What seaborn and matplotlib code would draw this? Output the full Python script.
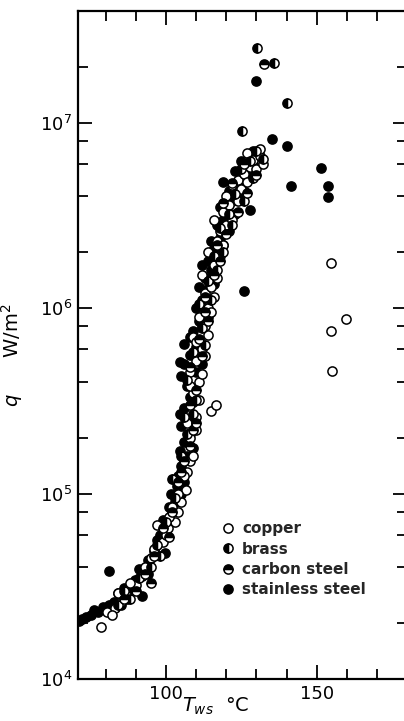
import numpy as np
import pandas as pd
import matplotlib
matplotlib.use("Agg")
import matplotlib.pyplot as plt
from matplotlib.lines import Line2D
from matplotlib.ticker import FixedLocator, NullFormatter
import seaborn as sns

# ---------------- data ----------------
copper_T = [78.5, 80.5, 83, 85, 87, 90, 92, 95, 96, 99, 100, 100.5, 103, 104, 105,
            106.5, 107, 108, 108, 110, 115, 116.5, 109, 111, 108, 110, 112, 109, 113,
            111, 114, 113, 115, 112, 116, 114, 117, 118, 116, 119, 121, 120, 123, 124,
            126, 128, 129, 131, 127,
            102, 104, 106, 109, 107, 110, 111, 108, 112, 113, 110, 114, 115, 116, 117,
            118, 119, 120, 122, 124, 122, 125, 127, 130, 132, 131, 93, 88, 84, 82, 97, 101,
            154.6, 159.6, 154.6, 155]
copper_q = [1.9e4, 2.3e4, 2.4e4, 2.6e4, 2.8e4, 3.2e4, 3.6e4, 4.5e4, 5.0e4, 5.5e4, 6.0e4,
            6.5e4, 7.0e4, 8.0e4, 9.0e4, 1.05e5, 1.3e5, 1.5e5, 2.0e5, 2.2e5, 2.8e5, 3.0e5,
            3.5e5, 4.0e5, 4.5e5, 5.2e5, 6.0e5, 7.0e5, 8.0e5, 9.0e5, 1.0e6, 1.2e6, 1.3e6,
            1.5e6, 1.7e6, 2.0e6, 2.3e6, 2.6e6, 3.0e6, 3.3e6, 3.6e6, 4.0e6, 4.4e6, 4.9e6,
            5.3e6, 5.8e6, 6.3e6, 6.6e6, 6.9e6,
            8.5e4, 1.0e5, 1.25e5, 1.6e5, 2.4e5, 2.6e5, 3.2e5, 3.8e5, 4.4e5, 5.5e5, 6.6e5,
            7.2e5, 9.5e5, 1.15e6, 1.45e6, 1.9e6, 2.2e6, 2.8e6, 3.0e6, 3.8e6, 4.6e6, 4.4e6,
            4.8e6, 5.6e6, 6.0e6, 7.2e6, 4.0e4, 3.3e4, 2.9e4, 2.2e4, 6.8e4, 7.5e4,
            1.75e6, 8.7e5, 7.5e5, 4.6e5]

brass_T = [84, 88, 91, 95, 97, 100, 103, 105, 107, 109, 107, 109, 112, 111, 114, 116,
           118, 121, 123, 125, 128, 130,
           102, 106, 110, 113, 115, 117, 119, 122, 126, 129, 132, 98, 86,
           125.2, 130.1, 135.8, 140.1]
brass_q = [2.5e4, 2.7e4, 3.5e4, 4.0e4, 5.3e4, 7.0e4, 9.5e4, 1.6e5, 2.1e5, 2.7e5, 4.1e5,
           5.8e5, 7.8e5, 1.05e6, 1.4e6, 1.9e6, 2.7e6, 3.2e6, 4.1e6, 5.6e6, 6.2e6, 7.0e6,
           1.2e5, 2.6e5, 3.2e5, 6.3e5, 1.1e6, 1.6e6, 2.0e6, 2.8e6, 3.8e6, 5.0e6, 6.4e6,
           4.6e4, 3.0e4,
           9.06e6, 2.54e7, 2.11e7, 1.27e7]

carbon_T = [86, 90, 93, 96, 99, 102, 104, 106, 108, 110, 108, 110, 108, 111, 113, 113,
            116, 117, 119, 122, 126,
            105, 109, 112, 114, 118, 120, 124, 127, 130, 101, 95,
            132.5]
carbon_q = [2.7e4, 3.0e4, 3.7e4, 4.6e4, 6.5e4, 8.0e4, 1.15e5, 1.5e5, 1.8e5, 2.4e5, 3.0e5,
            3.6e5, 4.8e5, 6.8e5, 9.5e5, 1.15e6, 1.5e6, 2.2e6, 3.7e6, 4.7e6, 6.0e6,
            1.3e5, 2.2e5, 5.5e5, 8.5e5, 1.8e6, 2.5e6, 3.3e6, 4.2e6, 5.2e6, 5.8e4, 3.3e4,
            2.08e7]

stainless_T = [71, 72, 73.5, 75, 76, 77.5, 79, 81, 82.5, 81.1, 84, 86, 88, 89.5, 91, 92,
               94, 96, 98, 99, 101, 101.5, 103.5, 104, 105, 104.5, 106, 105, 107, 106,
               108, 107, 105, 106, 104.5, 108, 110, 109, 111, 110, 112, 111, 113, 115,
               114, 116, 118, 117, 119, 120, 122, 121, 124, 125, 127, 129, 130,
               103, 105, 106, 107, 109, 108, 104.5, 109, 110, 112, 106, 108, 112, 114,
               113, 116, 112, 115, 119, 118, 121, 123, 124, 126, 128, 123, 125, 129, 119,
               94, 97, 100, 85, 87, 99.5,
               126, 127.8, 129.8, 135.1, 140.1, 151.3, 141.4, 153.6, 153.6]
stainless_q = [2.05e4, 2.1e4, 2.15e4, 2.2e4, 2.35e4, 2.3e4, 2.45e4, 2.5e4, 2.6e4, 3.8e4,
               2.9e4, 3.1e4, 3.0e4, 3.4e4, 3.9e4, 2.8e4, 4.4e4, 4.9e4, 6.0e4, 7.2e4,
               8.5e4, 1.0e5, 1.1e5, 1.25e5, 1.4e5, 1.7e5, 1.9e5, 2.3e5, 2.5e5, 2.9e5,
               3.3e5, 3.8e5, 4.3e5, 5.0e5, 5.1e5, 5.6e5, 6.2e5, 7.5e5, 8.5e5, 1.0e6,
               1.1e6, 1.3e6, 1.45e6, 1.6e6, 1.8e6, 2.1e6, 2.4e6, 2.8e6, 3.0e6, 3.4e6,
               3.8e6, 4.3e6, 4.6e6, 5.0e6, 5.5e6, 6.0e6, 6.6e6,
               9.0e4, 1.0e5, 1.15e5, 1.6e5, 1.75e5, 2.1e5, 2.7e5, 3.1e5, 4.5e5, 5.0e5,
               6.4e5, 7.0e5, 8.0e5, 9.0e5, 1.25e6, 1.35e6, 1.7e6, 2.3e6, 2.2e6, 3.5e6,
               2.6e6, 3.2e6, 4.0e6, 4.3e6, 5.0e6, 5.5e6, 6.2e6, 7.0e6, 4.8e6,
               3.7e4, 5.6e4, 6.3e4, 2.5e4, 2.7e4, 4.8e4,
               1.23e6, 3.4e6, 1.67e7, 8.2e6, 7.5e6, 5.7e6, 4.56e6, 4.56e6, 3.98e6]

series_names = ["copper", "brass", "carbon steel", "stainless steel"]
x_major = [100, 150]
x_minor = [80, 90, 110, 120, 130, 140, 160, 170]
y_major = [1e4, 1e5, 1e6, 1e7]
y_major_labels = [r"$\mathregular{10^4}$", r"$\mathregular{10^5}$",
                  r"$\mathregular{10^6}$", r"$\mathregular{10^7}$"]

# ---------------- figure ----------------
sns.set_theme(style="ticks")
plt.rcParams["font.family"] = ["DejaVu Sans"]

fig = plt.figure(figsize=(4.04, 7.21), dpi=100)
ax = fig.add_axes([78 / 404, 42 / 721, 329 / 404, 668 / 721])

ms = 6.6
mew = 1.1

df_cu = pd.DataFrame({"T": copper_T, "q": copper_q})
df_ss = pd.DataFrame({"T": stainless_T, "q": stainless_q})

sns.scatterplot(data=df_ss, x="T", y="q", ax=ax, marker="o", s=ms ** 2,
                color="black", edgecolor="black", linewidth=mew, zorder=3)
sns.scatterplot(data=df_cu, x="T", y="q", ax=ax, marker="o", s=ms ** 2,
                facecolor="white", edgecolor="black", linewidth=mew, zorder=4)
ax.plot(brass_T, brass_q, linestyle="none", marker="o", markersize=ms,
        fillstyle="left", markerfacecolor="black", markerfacecoloralt="white",
        markeredgecolor="black", markeredgewidth=mew, zorder=5)
ax.plot(carbon_T, carbon_q, linestyle="none", marker="o", markersize=ms,
        fillstyle="top", markerfacecolor="black", markerfacecoloralt="white",
        markeredgecolor="black", markeredgewidth=mew, zorder=5)

ax.set_yscale("log")
ax.set_xlim(70.7, 180)
ax.set_ylim(1e4, 4e7)

ax.xaxis.set_major_locator(FixedLocator(x_major))
ax.xaxis.set_minor_locator(FixedLocator(x_minor))
ax.set_xticklabels([str(v) for v in x_major])
ax.yaxis.set_major_locator(FixedLocator(y_major))
ax.set_yticklabels(y_major_labels)
ymin = []
for d in [1e4, 1e5, 1e6, 1e7]:
    for m in [2, 4, 6, 8]:
        if m * d < 4e7:
            ymin.append(m * d)
ax.yaxis.set_minor_locator(FixedLocator(ymin))
ax.yaxis.set_minor_formatter(NullFormatter())

ax.tick_params(which="both", direction="in", top=True, right=True,
               color="black", width=1.3, labelsize=13, labelcolor="black")
ax.tick_params(which="major", length=10, pad=4)
ax.tick_params(which="minor", length=7)
for sp in ax.spines.values():
    sp.set_linewidth(1.6)
    sp.set_color("black")

ax.set_xlabel(r"$T_{ws}$  °C", fontsize=14, labelpad=0, color="black")
ax.xaxis.set_label_coords(0.42, -0.025)
ax.set_ylabel(r"$q$      W/m$^2$", fontsize=14, color="black")
ax.yaxis.set_label_coords(-0.16, 0.485)

handles = [
    Line2D([], [], linestyle="none", marker="o", markersize=ms, markerfacecolor="white",
           markeredgecolor="black", markeredgewidth=mew),
    Line2D([], [], linestyle="none", marker="o", markersize=ms, fillstyle="left",
           markerfacecolor="black", markerfacecoloralt="white", markeredgecolor="black",
           markeredgewidth=mew),
    Line2D([], [], linestyle="none", marker="o", markersize=ms, fillstyle="top",
           markerfacecolor="black", markerfacecoloralt="white", markeredgecolor="black",
           markeredgewidth=mew),
    Line2D([], [], linestyle="none", marker="o", markersize=ms, markerfacecolor="black",
           markeredgecolor="black", markeredgewidth=mew),
]
leg = ax.legend(handles, series_names, loc="upper left",
                bbox_to_anchor=(0.42, 0.245), frameon=False,
                prop={"size": 11, "weight": "bold"}, handlelength=0.8,
                handletextpad=0.5, labelspacing=0.35, borderaxespad=0)

fig.savefig("out.png", dpi=100)
